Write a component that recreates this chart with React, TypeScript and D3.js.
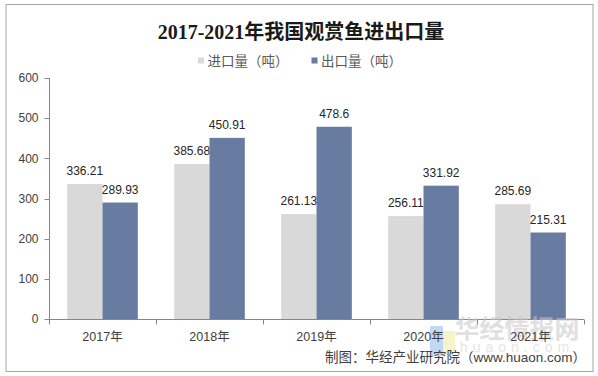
import React from "react";
import * as d3 from "d3";

const categories = ["2017年", "2018年", "2019年", "2020年", "2021年"];
const importVals = [336.21, 385.68, 261.13, 256.11, 285.69];
const exportVals = [289.93, 450.91, 478.6, 331.92, 215.31];
const seriesNames = ["进口量（吨）", "出口量（吨）"];
const yTicks = [0, 100, 200, 300, 400, 500, 600];
const colors = ["#d9d9d9", "#687ba1"];

const W = 598;
const H = 376;
const FONT = "'Liberation Sans', Arial, 'Noto Sans CJK SC', sans-serif";

export default function App() {
  const x = d3.scaleBand<string>().domain(categories).range([49, 584]).paddingInner(0).paddingOuter(0);
  const y = d3.scaleLinear().domain([0, 600]).range([319, 78]);
  const groupW = x.bandwidth() * 0.66;
  const inner = d3.scaleBand<number>().domain([0, 1]).range([0, groupW]);
  const series = [importVals, exportVals];

  return (
    <svg width={W} height={H} style={{ position: "absolute", left: 0, top: 0, background: "#fff" }}>
      <rect x={0} y={0} width={W} height={H} fill="#fff" />
      <rect x={6} y={4.5} width={587} height={367} fill="#fff" stroke="#a6a6a6" strokeWidth={1} />
      <text x={301} y={39} textAnchor="middle" fontSize={20} fontWeight="bold"
        fontFamily="'Liberation Serif', 'Times New Roman', 'Noto Sans CJK SC', serif" fill="#1a1a1a">
        2017-2021年我国观赏鱼进出口量
      </text>
      {/* legend */}
      {seriesNames.map((n, i) => {
        const lx = i === 0 ? 198 : 311.5;
        return (
          <g key={n}>
            <rect x={lx} y={57.5} width={6} height={6} fill={colors[i]} />
            <text x={lx + 9.5} y={66} fontSize={13.5} fontFamily={FONT} fill="#595959">{n}</text>
          </g>
        );
      })}
      {/* y axis */}
      <line x1={49.5} x2={49.5} y1={y(600)} y2={y(0)} stroke="#868686" />
      {yTicks.map((t) => (
        <g key={t}>
          <line x1={44.5} x2={49.5} y1={Math.round(y(t)) + 0.5} y2={Math.round(y(t)) + 0.5} stroke="#868686" />
          <text x={38.5} y={y(t) + 4.3} textAnchor="end" fontSize={12} fontFamily={FONT} fill="#404040">{t}</text>
        </g>
      ))}
      {/* bars */}
      {categories.map((c, ci) => {
        const gx = (x(c) as number) + (x.bandwidth() - groupW) / 2;
        return (
          <g key={c}>
            {series.map((s, si) => {
              const bx = gx + (inner(si) as number);
              const v = s[ci];
              return (
                <g key={si}>
                  <rect x={bx} y={y(v)} width={inner.bandwidth()} height={y(0) - y(v)} fill={colors[si]} />
                  <text x={bx + inner.bandwidth() / 2} y={y(v) - 9} textAnchor="middle" fontSize={12}
                    fontFamily={FONT} fill="#262626">{v}</text>
                </g>
              );
            })}
          </g>
        );
      })}
      {/* x axis */}
      <line x1={49} x2={584} y1={319.5} y2={319.5} stroke="#868686" />
      {[...categories.map((c) => x(c) as number), 584].map((bx, i) => (
        <line key={i} x1={Math.round(bx) + 0.5} x2={Math.round(bx) + 0.5} y1={319.5} y2={324.5} stroke="#868686" />
      ))}
      {/* watermark */}
      <g opacity={0.55}>
        <rect x={430} y={326} width={13} height={30} fill="#8fb8ef" />
        <rect x={443} y={331} width={12} height={22} fill="#f3ea9c" />
        <text x={517} y={338} textAnchor="middle" fontSize={25} fontWeight="bold"
          fontFamily="'Noto Sans CJK SC', sans-serif" fill="#c8c8c8">华经情报网</text>
        <text x={517} y={352} textAnchor="middle" fontSize={14} letterSpacing={5}
          fontFamily={FONT} fill="#d0d0d0">huaon.com</text>
      </g>
      {categories.map((c) => (
        <text key={c} x={(x(c) as number) + x.bandwidth() / 2} y={341} textAnchor="middle" fontSize={12.5}
          fontFamily={FONT} fill="#404040">{c}</text>
      ))}
      <text x={586} y={362} textAnchor="end" fontSize={13.5} fontFamily={FONT} fill="#404040">
        制图：华经产业研究院（www.huaon.com）
      </text>
    </svg>
  );
}
